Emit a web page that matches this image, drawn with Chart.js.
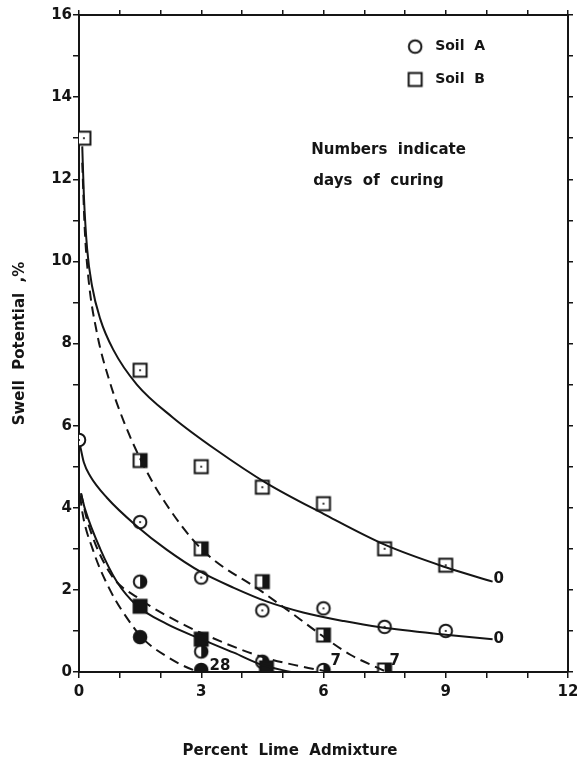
<!DOCTYPE html>
<html>
<head>
<meta charset="utf-8">
<script src="https://cdn.jsdelivr.net/npm/chart.js@4.4.1/dist/chart.umd.min.js"></script>
<style>
  html, body { margin: 0; padding: 0; background: #fff; }
</style>
</head>
<body>
<canvas id="mycanvas" width="577" height="771"></canvas>
<script>
// measured points (percent lime, swell potential %)
var doseA0 = [0, 1.5, 3, 4.5, 6, 7.5, 9];
var soilA0 = [5.65, 3.65, 2.3, 1.5, 1.55, 1.1, 1.0];
var doseA7 = [1.5, 3, 4.5, 6];
var soilA7 = [2.2, 0.5, 0.25, 0.05];
var doseA28 = [1.5, 3];
var soilA28 = [0.85, 0.05];
var doseB0 = [0.12, 1.5, 3, 4.5, 6, 7.5, 9];
var soilB0 = [13.0, 7.35, 5.0, 4.5, 4.1, 3.0, 2.6];
var doseB7 = [1.5, 3, 4.5, 6, 7.5];
var soilB7 = [5.15, 3.0, 2.2, 0.9, 0.05];
var doseB28 = [1.5, 3, 4.6];
var soilB28 = [1.6, 0.8, 0.1];

// fitted curves
var fitB0x = [0.08, 0.12, 0.2, 0.32, 0.52, 0.84, 1.42, 2.3, 3.38, 4.6, 6, 7.5, 9, 10.15];
var fitB0y = [12.8, 11.6, 10.3, 9.4, 8.6, 7.85, 7.0, 6.2, 5.4, 4.6, 3.85, 3.1, 2.55, 2.2];
var fitB7x = [0.08, 0.14, 0.23, 0.44, 0.76, 1.1, 1.5, 2.0, 3.0, 4.5, 5.43, 6.0, 6.66, 7.4, 7.55];
var fitB7y = [12.4, 10.8, 9.6, 8.26, 7.05, 6.1, 5.2, 4.3, 3.0, 1.95, 1.28, 0.86, 0.42, 0.07, 0];
var fitA0x = [0.03, 0.12, 0.27, 0.68, 1.42, 2.15, 3.0, 3.8, 4.6, 5.5, 6.5, 7.4, 9.0, 10.15];
var fitA0y = [5.5, 5.1, 4.78, 4.25, 3.55, 2.98, 2.43, 2.05, 1.72, 1.45, 1.24, 1.09, 0.91, 0.8];
var fitA7x = [0.05, 0.2, 0.76, 1.5, 2.48, 3.0, 4.45, 5.43, 6.05];
var fitA7y = [4.35, 3.7, 2.41, 1.77, 1.2, 0.95, 0.38, 0.14, 0.02];
var fitA28x = [0.03, 0.07, 0.34, 0.76, 1.33, 1.58, 2.15, 2.8, 3.0];
var fitA28y = [4.3, 3.96, 2.98, 2.0, 1.1, 0.8, 0.38, 0.05, 0];
var fitB28x = [0.05, 0.15, 0.52, 0.93, 1.42, 2.15, 3.0, 3.8, 4.5, 5.2];
var fitB28y = [4.35, 3.96, 3.0, 2.2, 1.62, 1.17, 0.8, 0.47, 0.17, 0];

// curing-day tags at curve ends
var tagText = ['0', '0', '7', '7', '28'];
var tagX = [10.3, 10.3, 6.3, 7.75, 3.46];
var tagY = [2.26, 0.8, 0.26, 0.26, 0.14];

var ink = '#151515';
var fontName = '"DejaVu Sans", sans-serif';

function pairs(xs, ys) {
    var out = [];
    for (var i = 0; i < xs.length; i++) out.push({x: xs[i], y: ys[i]});
    return out;
}

// small canvases used as point styles
function marker(shape, fill) {
    var c = document.createElement('canvas');
    c.width = 18; c.height = 18;
    var g = c.getContext('2d');
    g.lineWidth = 2;
    g.strokeStyle = ink;
    function path() {
        g.beginPath();
        if (shape == 'circle') g.arc(9, 9, 6.3, 0, Math.PI * 2);
        else g.rect(2.5, 2.5, 13, 13);
    }
    path();
    g.fillStyle = '#fff';
    g.fill();
    g.fillStyle = ink;
    if (fill == 'full') {
        path(); g.fill();
    } else if (fill == 'half') {
        g.save(); path(); g.clip();
        g.fillRect(9, 0, 9, 18);
        g.restore();
    } else if (fill == 'dot') {
        g.beginPath(); g.arc(9, 9, 1.1, 0, Math.PI * 2); g.fill();
    }
    path(); g.stroke();
    return c;
}

function curve(xs, ys, dashed) {
    return {
        data: pairs(xs, ys),
        showLine: true,
        borderColor: ink,
        borderWidth: 2,
        borderDash: dashed ? [10, 6] : [],
        pointRadius: 0,
        cubicInterpolationMode: 'monotone',
        fill: false
    };
}

function points(xs, ys, shape, fill) {
    return {
        data: pairs(xs, ys),
        showLine: false,
        pointStyle: marker(shape, fill),
        pointRadius: 8,
        borderColor: ink,
        backgroundColor: ink
    };
}

var notes = {
    id: 'notes',
    afterDatasetsDraw: function(chart) {
        var ctx = chart.ctx;
        var sx = chart.scales.x, sy = chart.scales.y;
        ctx.save();
        ctx.fillStyle = ink;
        ctx.textBaseline = 'middle';
        ctx.font = 'bold 15px ' + fontName;
        ctx.textAlign = 'center';
        for (var i = 0; i < tagText.length; i++) {
            ctx.fillText(tagText[i], sx.getPixelForValue(tagX[i]), sy.getPixelForValue(tagY[i]));
        }
        // x axis title sits left of centre in the original
        ctx.font = 'bold 15px ' + fontName;
        ctx.fillText('Percent  Lime  Admixture', 290, 751);
        // legend
        var lx = sx.getPixelForValue(8.25);
        ctx.drawImage(marker('circle', 'none'), lx - 9, sy.getPixelForValue(15.23) - 9);
        ctx.drawImage(marker('square', 'none'), lx - 9, sy.getPixelForValue(14.43) - 9);
        ctx.textAlign = 'left';
        ctx.font = 'bold 14px ' + fontName;
        ctx.fillText('Soil  A', sx.getPixelForValue(8.74), sy.getPixelForValue(15.23));
        ctx.fillText('Soil  B', sx.getPixelForValue(8.74), sy.getPixelForValue(14.43));
        ctx.font = 'bold 15px ' + fontName;
        ctx.fillText('Numbers  indicate', sx.getPixelForValue(5.7), sy.getPixelForValue(12.72));
        ctx.fillText('days  of  curing', sx.getPixelForValue(5.75), sy.getPixelForValue(11.95));
        ctx.restore();
    }
};

var axisGrid = {drawOnChartArea: false, drawTicks: true, tickLength: 6, color: ink, lineWidth: 1.5};
var axisBorder = {display: true, color: ink, width: 2};

var ctx = document.getElementById('mycanvas');
var chart = new Chart(ctx, {
    type: 'scatter',
    data: {
        datasets: [
            curve(fitB0x, fitB0y, false),
            curve(fitB7x, fitB7y, true),
            curve(fitA0x, fitA0y, false),
            curve(fitA7x, fitA7y, true),
            curve(fitA28x, fitA28y, true),
            curve(fitB28x, fitB28y, false),
            points(doseB0, soilB0, 'square', 'dot'),
            points(doseB7, soilB7, 'square', 'half'),
            points(doseB28, soilB28, 'square', 'full'),
            points(doseA0, soilA0, 'circle', 'dot'),
            points(doseA7, soilA7, 'circle', 'half'),
            points(doseA28, soilA28, 'circle', 'full')
        ]
    },
    options: {
        responsive: false,
        animation: false,
        layout: {padding: 0},
        plugins: {legend: {display: false}, tooltip: {enabled: false}},
        scales: {
            x: {
                type: 'linear', position: 'bottom', min: 0, max: 12,
                grid: axisGrid, border: axisBorder,
                ticks: {
                    stepSize: 1, autoSkip: false, maxRotation: 0, padding: 5, color: ink,
                    font: {family: fontName, size: 15, weight: 'bold'},
                    callback: function(v) { return v % 3 === 0 ? v : ''; }
                },
                afterFit: function(s) { s.height = 99; s.paddingLeft = 0; s.paddingRight = 0; }
            },
            y: {
                type: 'linear', position: 'left', min: 0, max: 16,
                grid: axisGrid, border: axisBorder,
                ticks: {
                    stepSize: 1, autoSkip: false, padding: 1, color: ink,
                    font: {family: fontName, size: 15, weight: 'bold'},
                    callback: function(v) { return v % 2 === 0 ? v : ''; }
                },
                title: {
                    display: true, text: 'Swell  Potential  ,%', color: ink,
                    font: {family: fontName, size: 15, weight: 'bold'},
                    padding: {top: 11, bottom: 0}
                },
                afterFit: function(s) { s.width = 79; s.paddingTop = 0; s.paddingBottom = 0; }
            },
            x2: {
                type: 'linear', position: 'top', min: 0, max: 12,
                grid: {drawOnChartArea: false, drawTicks: true, tickLength: 5, color: ink, lineWidth: 1.5},
                border: axisBorder,
                ticks: {stepSize: 1, display: false},
                afterFit: function(s) { s.height = 15; }
            },
            y2: {
                type: 'linear', position: 'right', min: 0, max: 16,
                grid: {drawOnChartArea: false, drawTicks: true, tickLength: 5, color: ink, lineWidth: 1.5},
                border: axisBorder,
                ticks: {stepSize: 1, display: false},
                afterFit: function(s) { s.width = 9; }
            }
        }
    },
    plugins: [notes]
});
</script>
</body>
</html>
